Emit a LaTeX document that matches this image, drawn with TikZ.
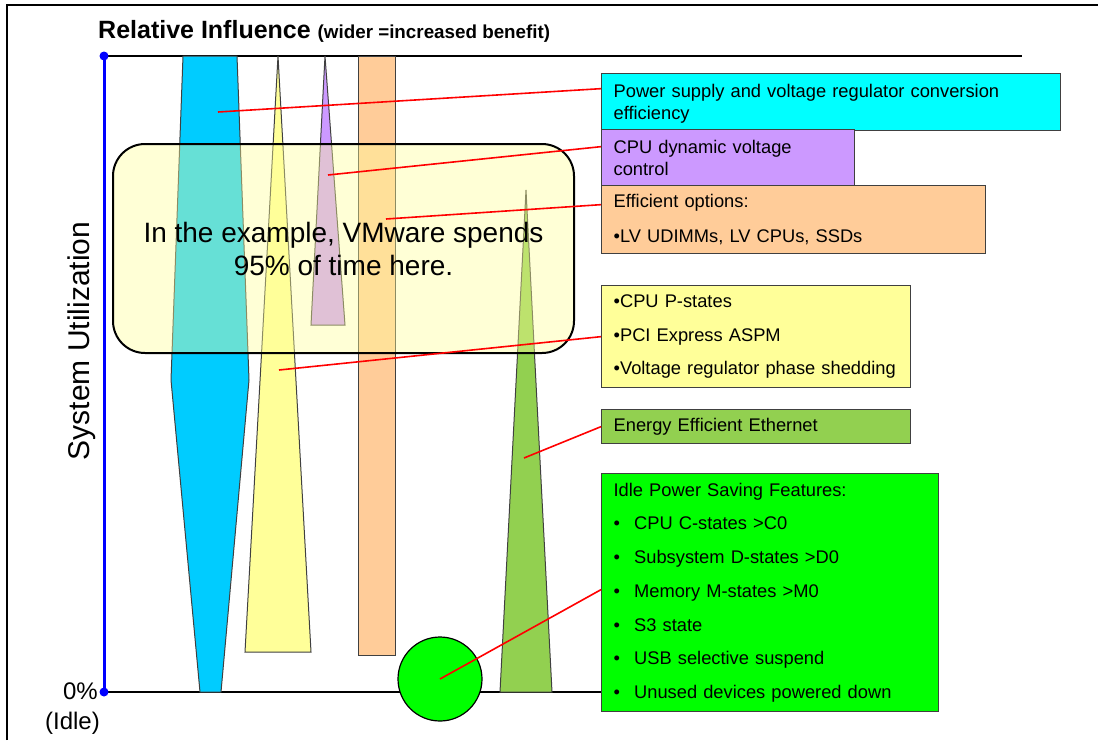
\documentclass[tikz,border=0pt]{standalone}
\usepackage{fontspec}
\setmainfont{Liberation Sans}
\usepackage{xcolor}
\definecolor{Sky}{HTML}{00CCFF}
\definecolor{Aqua}{HTML}{00FFFF}
\definecolor{Lemon}{HTML}{FFFF99}
\definecolor{Lilac}{HTML}{CC99FF}
\definecolor{Peach}{HTML}{FFCC99}
\definecolor{Olive}{HTML}{92D050}
\definecolor{Lime}{HTML}{00FF00}
\definecolor{Edge}{HTML}{404040}
\newcommand{\boxfont}{\fontsize{18.3}{22}\selectfont}
\newcommand{\bul}{\makebox[20.5pt][l]{•}}
\usepackage{tikz}

\begin{document}
\begin{tikzpicture}[x=1pt, y=-1pt]
		\tikzset{
			feature/.style={draw=Edge, line width=1.3pt, anchor=north west, inner xsep=12pt, inner ysep=0pt, align=left, font=\boxfont},
			shapeline/.style={draw=Edge, line width=1pt},
			redline/.style={draw=red, line width=1.6pt},
			axisline/.style={draw=black, line width=2.5pt}
		}
		\useasboundingbox (0,0) rectangle (1098,740);
		
		% Frame
		\draw[line width=1.2pt] (7,740) -- (7,5) -- (1098,5);
		
		% Axes
		\coordinate (top) at (104,56);
		\coordinate (origin) at (104,692);
		\draw[axisline] (top) -- (1022,56);
		\draw[axisline] (origin) -- (601,692);
		
		% Shapes
		\filldraw[shapeline, fill=Sky] (183,56) -- (237,56) -- (249,380) -- (221,692) -- (200,692) -- (171,380) -- cycle;
		\filldraw[shapeline, fill=Lemon] (278,56) -- (311,652) -- (245,652) -- cycle;
		\filldraw[shapeline, fill=Lilac] (325,56) -- (345,325) -- (311,325) -- cycle;
		\filldraw[shapeline, fill=Peach] (358,56) rectangle (395,655);
		\filldraw[shapeline, fill=Olive] (526,190) -- (552,692) -- (500,692) -- cycle;
		\node[circle, draw=black, line width=1.2pt, fill=Lime, minimum size=84pt, inner sep=0pt] (idledot) at (440,679) {};
		
		\coordinate (skypt) at (218,112);
		\coordinate (lilacpt) at (328,175);
		\coordinate (peachpt) at (386,219);
		\coordinate (lemonpt) at (279,370);
		\coordinate (olivept) at (524,458);
		
		% Highlight
		\node[draw=black, line width=2pt, fill=Lemon, fill opacity=0.4, text opacity=1, rounded corners=32pt, minimum width=461pt, minimum height=209pt, align=center, font=\fontsize{28}{33}\selectfont] (vmbox) at (343.5,248.5) {In the example, VMware spends\\95\% of time here.};
		
		% Axis
		\draw[draw=blue, line width=3pt] (origin) -- (top);
		\fill[blue] (top) circle (4.5pt);
		\fill[blue] (origin) circle (4.5pt);
		
		% Boxes
		\node[feature, fill=Aqua, text width=435pt, minimum height=57pt] (pwrbox) at (601,73) {\rule{0pt}{16pt}Power supply and voltage regulator conversion\\efficiency};
		\node[feature, fill=Lilac, text width=229pt, minimum height=56pt] (cpubox) at (601,129) {CPU dynamic voltage\\control};
		\node[feature, fill=Peach, text width=360pt, minimum height=68pt] (optbox) at (601,185) {Efficient options:\\[13pt]•LV UDIMMs, LV CPUs, SSDs};
		\node[feature, fill=Lemon, text width=285pt, minimum height=102pt] (pstbox) at (601,285) {•CPU P-states\\[11.5pt]•PCI Express ASPM\\[11.5pt]\mbox{•Voltage regulator phase shedding}};
		\node[feature, fill=Olive, text width=285pt, minimum height=34pt] (eeebox) at (601,409) {Energy Efficient Ethernet};
		\node[feature, fill=Lime, text width=313pt, minimum height=238pt] (idlebox) at (601,473) {Idle Power Saving Features:\\[11.7pt]
			\bul CPU C-states >C0\\[11.7pt]
			\bul Subsystem D-states >D0\\[11.7pt]
			\bul Memory M-states >M0\\[11.7pt]
			\bul S3 state\\[11.7pt]
			\bul USB selective suspend\\[11.7pt]
			\bul Unused devices powered down};
		
		% Connectors
		\draw[redline] (skypt) -- ([yshift=13.5pt]pwrbox.west);
		\draw[redline] (lilacpt) -- ([yshift=11pt]cpubox.west);
		\draw[redline] (peachpt) -- ([yshift=15pt]optbox.west);
		\draw[redline] (lemonpt) -- (pstbox.west);
		\draw[redline] (olivept) -- (eeebox.west);
		\draw[redline] (idledot.center) -- ([yshift=3pt]idlebox.west);
		
		% Text
		\node[anchor=base west, inner sep=0pt] (title) at (98,38) {\bfseries\fontsize{25}{29}\selectfont Relative Influence \fontsize{18.8}{22}\selectfont(wider =increased benefit)};
		\node[rotate=90, inner sep=0pt, font=\fontsize{30}{34}\selectfont] (ylabel) at (82,341) {System Utilization};
		\node[anchor=base east, inner sep=0pt, font=\fontsize{24}{28}\selectfont] (zero) at (98,699) {0\%};
		\node[anchor=base east, inner sep=0pt, font=\fontsize{24}{28}\selectfont] (idle) at (100,729) {(Idle)};
		
	\end{tikzpicture}
\end{document}
